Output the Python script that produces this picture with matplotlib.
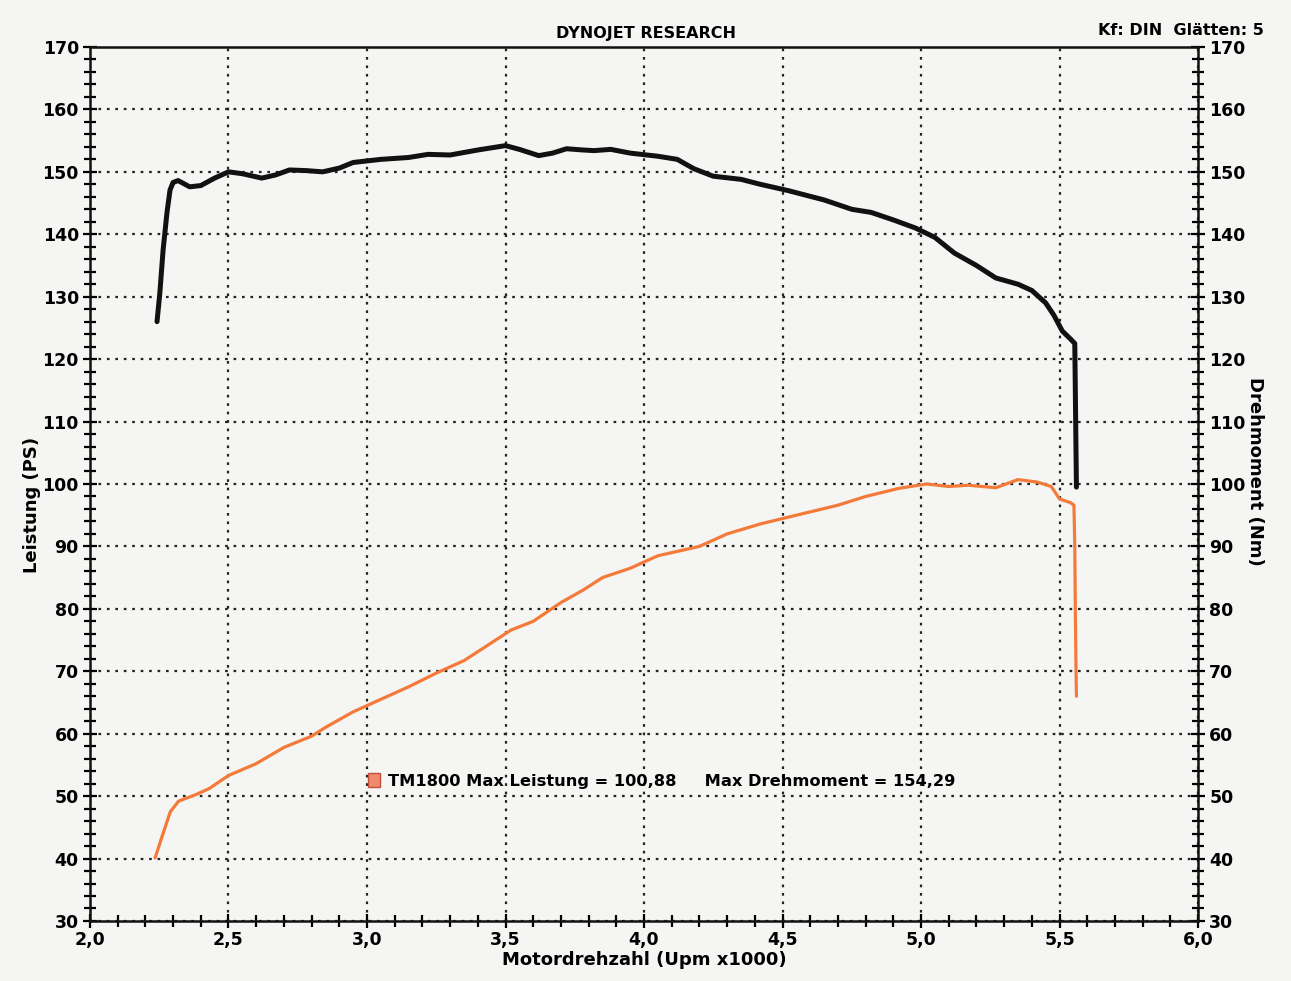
import matplotlib
matplotlib.use("Agg")
import matplotlib.pyplot as plt
from matplotlib.ticker import MultipleLocator, FuncFormatter
from matplotlib.patches import Rectangle

# Torque (Drehmoment, Nm) curve
torque_rpm = [2.242, 2.252, 2.264, 2.278, 2.289, 2.300, 2.318, 2.335, 2.36, 2.40, 2.45, 2.50, 2.55,
              2.62, 2.67, 2.72, 2.78, 2.84, 2.90, 2.95, 3.05, 3.15, 3.22, 3.30, 3.40, 3.50,
              3.55, 3.62, 3.67, 3.72, 3.78, 3.82, 3.88, 3.95, 4.05, 4.12, 4.18, 4.25, 4.35,
              4.42, 4.52, 4.65, 4.75, 4.82, 4.90, 4.98, 5.05, 5.12, 5.20, 5.27, 5.35, 5.40,
              5.45, 5.48, 5.51, 5.54, 5.555, 5.557, 5.559, 5.561]
torque_nm = [126.0, 130.5, 137.5, 143.5, 147.1, 148.3, 148.6, 148.2, 147.6, 147.8, 149.0, 150.0, 149.7,
             149.0, 149.5, 150.3, 150.2, 150.0, 150.6, 151.5, 152.0, 152.3, 152.8, 152.7, 153.5, 154.2,
             153.6, 152.6, 153.0, 153.7, 153.5, 153.4, 153.6, 153.0, 152.5, 152.0, 150.5, 149.3, 148.8,
             148.0, 147.0, 145.5, 144.0, 143.5, 142.3, 141.0, 139.5, 137.0, 135.0, 133.0, 132.0, 131.0,
             129.0, 127.0, 124.5, 123.2, 122.5, 115.0, 107.0, 99.5]

# Power (Leistung, PS) curve
power_rpm = [2.235, 2.26, 2.29, 2.32, 2.38, 2.43, 2.50, 2.60, 2.70, 2.80, 2.85, 2.95, 3.05, 3.15,
             3.25, 3.35, 3.43, 3.52, 3.60, 3.70, 3.78, 3.85, 3.95, 4.05, 4.15, 4.20, 4.30, 4.42,
             4.55, 4.70, 4.80, 4.92, 5.02, 5.10, 5.17, 5.27, 5.35, 5.42, 5.47, 5.50, 5.54, 5.552,
             5.555, 5.557, 5.559, 5.561]
power_ps = [40.1, 43.5, 47.5, 49.2, 50.2, 51.2, 53.3, 55.2, 57.8, 59.6, 61.0, 63.5, 65.5, 67.5,
            69.7, 71.7, 74.0, 76.6, 78.0, 81.0, 83.0, 85.0, 86.5, 88.5, 89.5, 90.0, 92.0, 93.6,
            95.0, 96.6, 98.0, 99.3, 100.0, 99.6, 99.8, 99.4, 100.7, 100.3, 99.6, 97.6, 97.0, 96.6,
            90.0, 80.0, 72.0, 66.0]

x_ticks = [2.0, 2.5, 3.0, 3.5, 4.0, 4.5, 5.0, 5.5, 6.0]
y_ticks = [30, 40, 50, 60, 70, 80, 90, 100, 110, 120, 130, 140, 150, 160, 170]

bg = '#f5f5f4'
plt.rcParams['font.family'] = ['DejaVu Sans']
plt.rcParams['font.weight'] = 'bold'

fig = plt.figure(figsize=(12.91, 9.81), dpi=100, facecolor=bg)
ax = fig.add_axes([0.0697, 0.0612, 0.8583, 0.8909], facecolor=bg)

ax.set_xlim(2.0, 6.0)
ax.set_ylim(30, 170)

ax.grid(True, which='major', color='#222222', linestyle=(0, (1.2, 2.6)), linewidth=1.6)
ax.set_axisbelow(True)

ax.plot(torque_rpm, torque_nm, color='#111111', linewidth=3.6, solid_capstyle='round',
        solid_joinstyle='round', zorder=3)
ax.plot(power_rpm, power_ps, color='#f47a3a', linewidth=2.3, solid_capstyle='round',
        solid_joinstyle='round', zorder=3)

ax.xaxis.set_major_locator(MultipleLocator(0.5))
ax.xaxis.set_minor_locator(MultipleLocator(0.1))
ax.yaxis.set_major_locator(MultipleLocator(10))
ax.yaxis.set_minor_locator(MultipleLocator(2))
ax.set_xticks(x_ticks)
ax.set_yticks(y_ticks)
fmt = FuncFormatter(lambda v, p: f"{v:.1f}".replace('.', ','))
ax.xaxis.set_major_formatter(fmt)

ax.tick_params(axis='both', which='both', direction='inout', colors='black', labelsize=12.5)
ax.tick_params(axis='both', which='major', length=10, width=1.6)
ax.tick_params(axis='both', which='minor', length=9, width=1.6)
ax.tick_params(axis='y', which='both', right=True, labelright=True, pad=3)
ax.tick_params(axis='x', which='major', pad=2)
for lab in ax.get_xticklabels() + ax.get_yticklabels():
    lab.set_fontweight('bold')

for s in ax.spines.values():
    s.set_linewidth(1.8)
    s.set_color('#111111')

ax.set_xlabel('Motordrehzahl (Upm x1000)', fontsize=13, fontweight='bold', labelpad=2)
fig.text(0.025, 0.485, 'Leistung (PS)', rotation=90, fontsize=13, fontweight='bold',
         ha='center', va='center')

fig.text(0.9725, 0.52, 'Drehmoment (Nm)', rotation=-90, fontsize=13, fontweight='bold',
         ha='center', va='center')
fig.text(0.5, 0.966, 'DYNOJET RESEARCH', fontsize=11.5, fontweight='bold', ha='center', va='center')
fig.text(0.979, 0.969, 'Kf: DIN  Glätten: 5', fontsize=11.5, fontweight='bold', ha='right', va='center')

ax.add_patch(Rectangle((0.2505, 0.153), 0.0115, 0.016, transform=ax.transAxes,
                       facecolor='#f08a6a', edgecolor='#c0503a', linewidth=1.0, zorder=4))
ax.text(0.269, 0.160, 'TM1800 Max Leistung = 100,88     Max Drehmoment = 154,29',
        transform=ax.transAxes, fontsize=11.7, fontweight='bold', ha='left', va='center', zorder=4)

fig.savefig('out.png', dpi=100, facecolor=bg)
